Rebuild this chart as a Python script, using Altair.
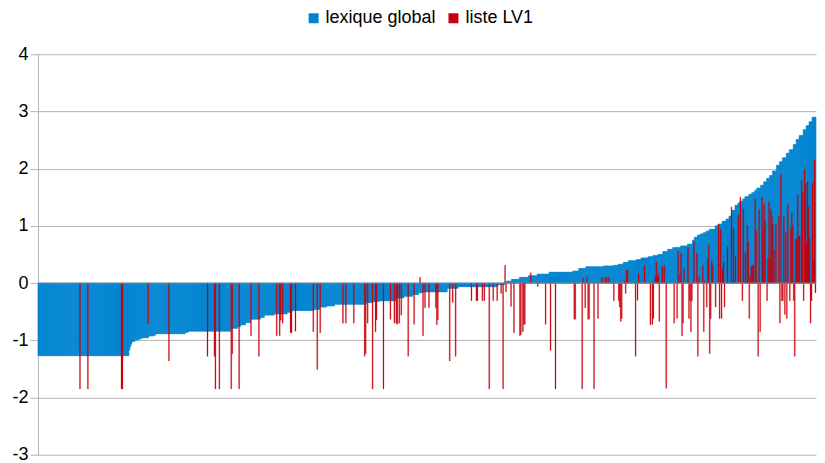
import altair as alt
import pandas as pd

# ---- blue series "lexique global": sorted values, run-length (count, value)
blue_counts = [92, 1, 1, 1, 3, 4, 3, 7, 5, 2, 30, 3, 43, 7, 3, 5, 5, 10, 4, 10,
               13, 5, 22, 6, 7, 8, 32, 7, 6, 17, 8, 9, 6, 4, 25, 11, 40, 7, 2, 5,
               8, 9, 9, 12, 24, 6, 7, 18, 10, 5, 5, 5, 8, 5, 7, 5, 5, 5, 5, 5,
               8, 7, 5,
               2, 3, 3, 3, 3, 3, 6, 3, 4, 4, 3, 3, 3, 3, 2, 3, 2, 4, 3, 3,
               2, 4, 3, 3, 3, 3, 4, 3, 3, 4, 3, 4, 3, 3, 4, 3, 3, 3, 4]
blue_values = [-1.27, -1.17, -1.11, -1.065, -1.02, -0.995, -0.975, -0.955, -0.925, -0.91,
               -0.885, -0.86, -0.84, -0.79, -0.76, -0.73, -0.69, -0.63, -0.60, -0.56,
               -0.54, -0.51, -0.48, -0.46, -0.42, -0.40, -0.37, -0.34, -0.32, -0.31,
               -0.26, -0.23, -0.20, -0.17, -0.155, -0.09, -0.064, -0.03, 0.01, 0.035,
               0.065, 0.10, 0.128, 0.157, 0.19, 0.21, 0.256, 0.285, 0.30, 0.31,
               0.33, 0.36, 0.39, 0.41, 0.44, 0.46, 0.48, 0.50, 0.55, 0.59,
               0.62, 0.65, 0.68,
               0.75, 0.80, 0.84, 0.86, 0.88, 0.91, 0.94, 1.00, 1.03, 1.08,
               1.12, 1.17, 1.27, 1.36, 1.40, 1.43, 1.47, 1.51, 1.55, 1.58,
               1.62, 1.66, 1.71, 1.77, 1.83, 1.88, 1.96, 2.06, 2.12, 2.19,
               2.27, 2.33, 2.42, 2.51, 2.58, 2.68, 2.75, 2.82, 2.90]

# ---- red series "liste LV1": rank (position in the sorted list) and value
red_ranks = [42, 50, 84, 85, 111, 132, 171, 178, 179, 183, 195, 196, 203, 215, 223,
             241, 244, 245, 247, 255, 256, 260, 278, 282, 285, 308, 311, 319, 330, 331,
             333, 338, 341, 342, 349, 356, 360, 362, 363, 365, 367, 374, 380, 386, 389,
             391, 395, 402, 403, 404, 416, 419, 422, 438, 443, 444, 449, 451, 456, 460,
             464, 468, 470, 472, 473, 478, 481, 487, 488, 490, 491, 492, 498, 505, 513,
             518, 523, 542, 543, 550, 551, 553, 555, 556, 557, 562, 566, 570, 573, 575,
             577, 582, 587, 588, 589, 590, 593, 594, 595, 596, 604, 606, 607, 613, 619,
             621, 622, 624, 625, 626, 627, 628, 631, 633, 635, 643, 646, 647, 649, 650,
             651, 652, 653, 657, 658, 659, 660, 661, 663, 666, 667, 668, 672, 673, 674,
             676, 677, 678, 679, 680, 681, 682, 685, 688, 689, 690, 691, 692, 693, 694,
             697, 701, 703, 705, 708, 710, 712, 713, 715, 717, 718, 719, 720, 721, 722,
             723, 725, 726, 728, 729, 730, 732, 733, 734, 735, 737, 738, 739, 740, 741,
             742, 743, 744, 746, 749, 750, 751, 752, 753, 754, 755, 756, 757, 758, 760,
             761, 762, 763, 764, 765, 766, 767, 768, 769, 770, 772, 773, 774, 775, 776,
             777, 778, 779, 780, 781, 782, 783, 784, 785, 786]
red_values = [-1.85, -1.85, -1.85, -1.85, -0.71, -1.36, -1.28, -1.28, -1.85, -1.85,
              -1.85, -1.24, -1.85, -0.92, -1.28, -0.92, -0.92, -0.65, -0.70, -0.87,
              -0.87, -0.84, -0.85, -1.51, -0.87, -0.70, -0.70, -0.70, -1.28, -1.23,
              -0.70, -1.85, -0.85, -0.64, -1.85, -0.63, -0.70, -0.70, -0.72, -0.70,
              -0.56, -1.28, -0.72, 0.10, -0.92, -0.43, -0.43, -0.43, -0.73, -0.64,
              -1.36, -0.34, -1.28, -0.31, -0.31, -0.31, -0.31, -0.31, -1.85, -0.31,
              -0.31, -0.18, -1.85, 0.31, -0.15, -0.41, -0.87, -0.92, -0.90, -0.85,
              -0.72, -0.72, 0.18, -0.06, -0.72, -1.18, -1.85, -0.63, -0.63, -1.85,
              0.09, -0.43, 0.11, -0.63, -0.63, -1.85, -0.62, 0.10, 0.10, 0.10,
              0.10, -0.31, -0.31, -0.42, -0.67, -0.62, 0.04, -0.18, 0.23, 0.22,
              -1.28, -0.30, 0.16, 0.31, -0.73, -0.72, -0.62, 0.11, 0.37, 0.11,
              0.17, -0.67, 0.29, 0.31, -1.84, -0.70, -0.62, 0.56, 0.16, 0.52,
              -0.92, -0.70, 0.25, 0.62, -0.62, -0.31, -0.85, -0.31, 0.72, 0.52,
              -1.28, 0.11, 0.31, -0.85, 0.04, -0.42, 0.42, 0.67, -1.23, -0.62,
              0.40, 0.31, -0.42, 1.03, -0.62, 0.94, -0.62, 0.25, 0.37, -0.42,
              0.63, 1.33, 0.96, 0.47, 1.19, 1.50, -0.31, 1.29, 0.54, 1.01,
              0.71, -0.62, 0.11, 0.29, 0.31, 0.31, 1.47, 0.92, -1.28, 1.29,
              -0.85, 1.50, 0.93, 1.38, 1.07, -0.31, 0.44, 1.42, 0.44, 1.29,
              1.16, 1.02, 0.58, 1.02, 1.17, -0.70, 1.90, -0.31, -0.31, 1.17,
              -0.55, 0.88, -0.62, 1.38, -0.31, 0.95, 1.23, 1.01, -0.31, -1.28,
              0.77, 0.77, 1.54, 0.82, 0.82, 1.80, 1.58, -0.31, 1.98, 1.73,
              0.71, 1.77, 1.33, 0.78, -0.70, -0.31, 1.75, 0.40, 2.15, -0.17]

series_names = ["lexique global", "liste LV1"]
series_colors = ["#0084d1", "#c8000c"]
y_ticks = [-3, -2, -1, 0, 1, 2, 3, 4]

# ---- build tables
rows = []
pos = 0
for c, v in zip(blue_counts, blue_values):
    for _ in range(c):
        rows.append({"rank": pos, "rank_end": pos + 1, "value": v, "series": series_names[0]})
        pos += 1
n_items = pos
blue_df = pd.DataFrame(rows)
red_df = pd.DataFrame({
    "rank": red_ranks,
    "rank_end": [r + 1 for r in red_ranks],
    "value": red_values,
    "series": series_names[1],
})

FONT = "Liberation Sans"

color = alt.Color(
    "series:N",
    scale=alt.Scale(domain=series_names, range=series_colors),
    legend=alt.Legend(
        orient="none", direction="horizontal", legendX=267, legendY=-45,
        title=None, symbolType="square", symbolSize=100, symbolStrokeWidth=0,
        labelFont=FONT, labelFontSize=18, labelColor="#000000",
        columnPadding=8, labelOffset=3,
    ),
)

x_enc = alt.X("rank:Q", scale=alt.Scale(domain=[0, n_items], nice=False, zero=False), axis=None)
y_enc = alt.Y(
    "value:Q",
    scale=alt.Scale(domain=[-3, 4], nice=False, zero=False),
    axis=alt.Axis(
        values=y_ticks, title=None, labelExpr="'' + datum.value",
        labelFont=FONT, labelFontSize=18, labelColor="#000000", labelPadding=2,
        tickSize=8, tickColor="#b3b3b3", domainColor="#b3b3b3",
        gridColor="#b3b3b3", gridWidth=1, minExtent=30, maxExtent=30,
    ),
)

blue = alt.Chart(blue_df).mark_rect(stroke="#0084d1", strokeWidth=0.6).encode(
    x=x_enc, x2="rank_end:Q", y=y_enc, y2=alt.datum(0), color=color
)
red = alt.Chart(red_df).mark_rect(stroke="#c8000c", strokeWidth=0.25).encode(
    x="rank:Q", x2="rank_end:Q", y="value:Q", y2=alt.datum(0), color=alt.Color("series:N")
)
zero = alt.Chart(pd.DataFrame({"z": [0]})).mark_rule(color="#8c8c8c", strokeWidth=1).encode(
    y=alt.Y("z:Q")
)

chart = alt.layer(blue, red, zero).properties(
    width=779, height=401,
    padding={"left": 0, "top": 1, "right": 0, "bottom": -1},
).configure_view(stroke=None)

chart.save("out.html", embed_options={"renderer": "svg", "actions": False})
